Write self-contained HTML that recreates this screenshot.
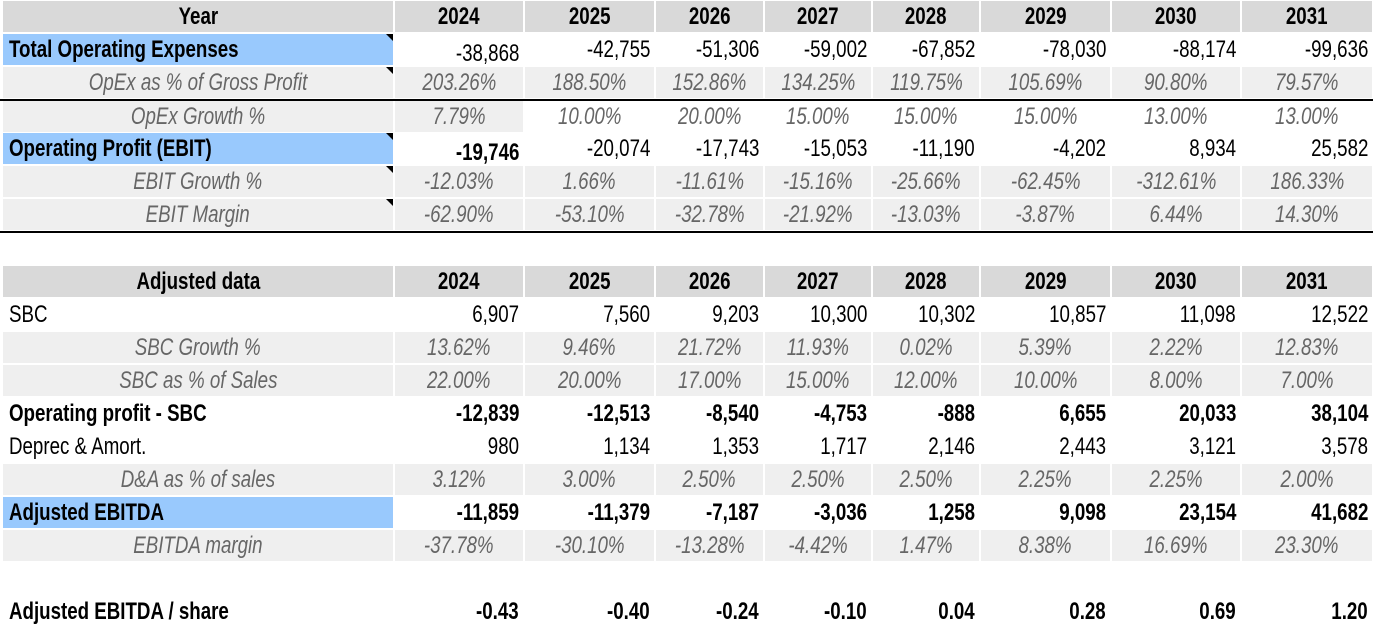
<!DOCTYPE html>
<html><head><meta charset="utf-8"><style>
body{margin:0;width:1373px;height:622px;overflow:hidden;background:#fff;font-family:"Liberation Sans",sans-serif;font-size:24px;color:#000}
.r{position:absolute;left:0;width:1373px;height:33px}
.c{position:absolute;top:1px;height:31px;line-height:31px;box-sizing:border-box;white-space:nowrap}
.t{display:inline-block;transform:scaleX(.78);transform-origin:center}
.g{background:#efefef}.h{background:#d9d9d9;font-weight:bold;text-align:center}.b{background:#99c9fd}
.n{text-align:right;padding-right:4px}.n .t{transform-origin:right}
.p{text-align:center;font-style:italic;color:#666}
.lab{padding-left:6px;text-align:left}.lab .t{transform-origin:left}.bold{font-weight:bold}
.line{position:absolute;left:0;width:1373px;height:2px;background:#000}
.tri{position:absolute;right:0;top:0;width:0;height:0;border-top:7px solid #000;border-left:7px solid transparent}
</style></head><body>
<div id="root"></div>
<script>
var X=[3,394,524,655,764,872,980,1111,1241,1373];
function T(x){return '<span class="t">'+x+'</span>';}
function row(top,label,lcls,vals,vcls,opts){opts=opts||{};
 var h='<div class="r" style="top:'+top+'px">';
 h+='<div class="c '+lcls+'" style="left:'+(X[0])+'px;width:'+(X[1]-X[0]-1)+'px">'+T(label)+(opts.tri?'<span class="tri"></span>':'')+'</div>';
 for(var i=0;i<8;i++){var cl=vcls;if(opts.first&&i>0)cl=cl.replace(' g','');
  h+='<div class="c '+cl+'" style="left:'+(X[i+1]+1)+'px;width:'+(X[i+2]-X[i+1]-2)+'px">'+T(vals[i])+'</div>';}
 return h+'</div>';}
var Y=['2024','2025','2026','2027','2028','2029','2030','2031'];
var s='';
s+=row(0,'Year','h',Y,'h');
s+=row(33,'<b>Total Operating Expenses</b>','b lab',['<span style="position:relative;top:4px">-38,868</span>','-42,755','-51,306','-59,002','-67,852','-78,030','-88,174','-99,636'],'n',{tri:1});
s+=row(66,'OpEx as % of Gross Profit','g p',['203.26%','188.50%','152.86%','134.25%','119.75%','105.69%','90.80%','79.57%'],'p g',{tri:1});
s+='<div class="line" style="top:99px"></div>';
s+=row(100,'OpEx Growth %','g p',['7.79%','10.00%','20.00%','15.00%','15.00%','15.00%','13.00%','13.00%'],'p g',{first:1});
s+=row(132,'<b>Operating Profit (EBIT)</b>','b lab',['<b style="position:relative;top:4px">-19,746</b>','-20,074','-17,743','-15,053','-11,190','-4,202','8,934','25,582'],'n',{tri:1});
s+=row(165,'EBIT Growth %','g p',['-12.03%','1.66%','-11.61%','-15.16%','-25.66%','-62.45%','-312.61%','186.33%'],'p g',{tri:1});
s+=row(198,'EBIT Margin','g p',['-62.90%','-53.10%','-32.78%','-21.92%','-13.03%','-3.87%','6.44%','14.30%'],'p g',{tri:1});
s+='<div class="line" style="top:231px"></div>';
s+=row(265,'Adjusted data','h',Y,'h');
s+=row(298,'SBC','lab',['6,907','7,560','9,203','10,300','10,302','10,857','11,098','12,522'],'n');
s+=row(331,'SBC Growth %','g p',['13.62%','9.46%','21.72%','11.93%','0.02%','5.39%','2.22%','12.83%'],'p g');
s+=row(364,'SBC as % of Sales','g p',['22.00%','20.00%','17.00%','15.00%','12.00%','10.00%','8.00%','7.00%'],'p g');
s+=row(397,'Operating profit - SBC','lab bold',['-12,839','-12,513','-8,540','-4,753','-888','6,655','20,033','38,104'],'n bold');
s+=row(430,'Deprec &amp; Amort.','lab',['980','1,134','1,353','1,717','2,146','2,443','3,121','3,578'],'n');
s+=row(463,'D&amp;A as % of sales','g p',['3.12%','3.00%','2.50%','2.50%','2.50%','2.25%','2.25%','2.00%'],'p g');
s+=row(496,'Adjusted EBITDA','b lab bold',['-11,859','-11,379','-7,187','-3,036','1,258','9,098','23,154','41,682'],'n bold');
s+=row(529,'EBITDA margin','g p',['-37.78%','-30.10%','-13.28%','-4.42%','1.47%','8.38%','16.69%','23.30%'],'p g');
s+=row(595,'Adjusted EBITDA / share','lab bold',['-0.43','-0.40','-0.24','-0.10','0.04','0.28','0.69','1.20'],'n bold');
document.getElementById('root').innerHTML=s;
</script>
</body></html>
